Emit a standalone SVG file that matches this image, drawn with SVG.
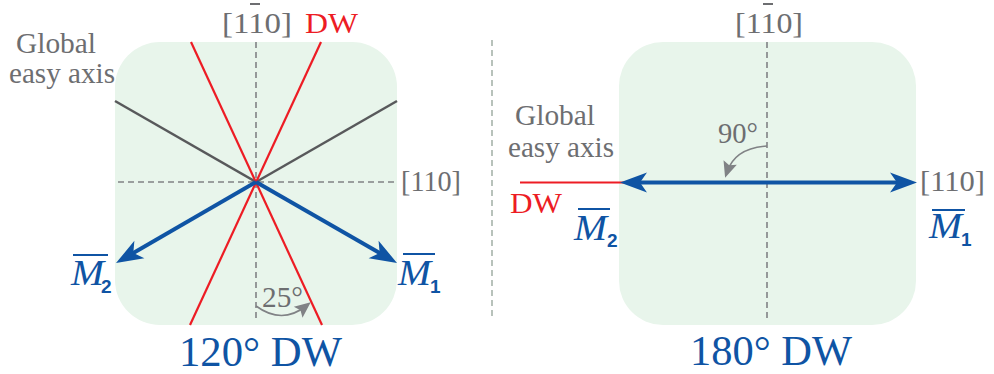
<svg xmlns="http://www.w3.org/2000/svg" width="994" height="374" viewBox="0 0 994 374">
<style>
.panel{fill:#e8f5eb}
.dash{stroke:#808285;stroke-width:1.6;stroke-dasharray:6 4;fill:none}
.red{stroke:#ed1c24;stroke-width:2.2;fill:none}
.axis{stroke:#58595b;stroke-width:2.5;fill:none}
.blue{stroke:#0f54a4;stroke-width:4;fill:none}
.arc{stroke:#808285;stroke-width:1.6;fill:none}
text{font-family:'Liberation Serif',Tinos,'Times New Roman',Times,'DejaVu Serif',serif}
.gt{fill:#6d6e71;font-size:29px}
.rt{fill:#ed1c24;font-size:30px}
.bt{fill:#0f54a4;font-size:42px}
.mt{font-style:italic;fill:#0f54a4;font-size:35px}
text.st{font-family:'Liberation Sans',Arial,sans-serif;font-weight:bold;fill:#0f54a4;font-size:19px}
.bar{stroke:#0f54a4;stroke-width:2}
.gbar{stroke:#6d6e71;stroke-width:2}
</style>
<defs>
<marker id="ab" markerUnits="userSpaceOnUse" markerWidth="40" markerHeight="30" viewBox="-30 -15 40 30" refX="-15" refY="0" orient="auto-start-reverse">
<path d="M0,0 L-27,-10 L-20,0 L-27,10 Z" fill="#0f54a4"/>
</marker>
<marker id="ag" markerUnits="userSpaceOnUse" markerWidth="30" markerHeight="24" viewBox="-20 -12 30 24" refX="-6" refY="0" orient="auto">
<path d="M0,0 L-16,-7 L-13,0 L-16,7 Z" fill="#808285"/>
</marker>
</defs>

<g id="left-panel">
<rect class="panel" x="115" y="42" width="282" height="283" rx="45" ry="45"/>
</g>
<g id="right-panel">
<rect class="panel" x="619" y="42" width="297" height="283" rx="44" ry="44"/>
</g>

<g id="connectors">
<line class="dash" x1="492" y1="40" x2="492" y2="320" style="stroke:#a7b3ab"/>
<line class="dash" x1="256" y1="42" x2="256" y2="322"/>
<line class="dash" x1="118" y1="182" x2="397" y2="182"/>
<line class="dash" x1="767" y1="42" x2="767" y2="322"/>
<line class="axis" x1="115" y1="101" x2="256" y2="182"/>
<line class="axis" x1="397" y1="101" x2="256" y2="182"/>
<line class="red" x1="191" y1="42" x2="322" y2="325"/>
<line class="red" x1="321" y1="42" x2="190" y2="325"/>
<line class="blue" x1="256" y1="182" x2="129" y2="255.5" marker-end="url(#ab)"/>
<line class="blue" x1="256" y1="182" x2="384" y2="255.5" marker-end="url(#ab)"/>
<path class="arc" d="M256,306 Q282,325 306,306" marker-end="url(#ag)"/>
<line class="red" x1="520" y1="182.5" x2="625" y2="182.5"/>
<line class="blue" x1="635" y1="182.5" x2="902" y2="182.5" marker-start="url(#ab)" marker-end="url(#ab)"/>
<path class="arc" d="M767,146 Q735,148 727,172" marker-end="url(#ag)"/>
</g>

<g id="labels-left">
<text class="gt" x="16" y="53" textLength="80" lengthAdjust="spacingAndGlyphs">Global</text>
<text class="gt" x="9" y="83" textLength="106" lengthAdjust="spacingAndGlyphs">easy axis</text>
<text class="gt" x="222" y="33" textLength="70" lengthAdjust="spacingAndGlyphs">[110]</text>
<line class="gbar" x1="250" y1="4" x2="260" y2="4"/>
<text class="rt" x="305" y="33" textLength="53" lengthAdjust="spacingAndGlyphs">DW</text>
<text class="gt" x="401" y="191" textLength="60" lengthAdjust="spacingAndGlyphs">[110]</text>
<text class="gt" x="262" y="307" textLength="41" lengthAdjust="spacingAndGlyphs">25°</text>
<text class="mt" x="71" y="285" textLength="33" lengthAdjust="spacingAndGlyphs">M</text>
<line class="bar" x1="73" y1="255" x2="108" y2="255"/>
<text class="st" x="101" y="293">2</text>
<text class="mt" x="398" y="285" textLength="33" lengthAdjust="spacingAndGlyphs">M</text>
<line class="bar" x1="403" y1="254" x2="435" y2="254"/>
<text class="st" x="430" y="293">1</text>
<text class="bt" x="179" y="366" textLength="163" lengthAdjust="spacingAndGlyphs">120° DW</text>
</g>

<g id="labels-right">
<text class="gt" x="735" y="33" textLength="68" lengthAdjust="spacingAndGlyphs">[110]</text>
<line class="gbar" x1="763" y1="4" x2="773" y2="4"/>
<text class="gt" x="515" y="125" textLength="80" lengthAdjust="spacingAndGlyphs">Global</text>
<text class="gt" x="508" y="157" textLength="106" lengthAdjust="spacingAndGlyphs">easy axis</text>
<text class="gt" x="718" y="143" textLength="40" lengthAdjust="spacingAndGlyphs">90°</text>
<text class="rt" x="510" y="213" textLength="52" lengthAdjust="spacingAndGlyphs">DW</text>
<text class="gt" x="920" y="191" textLength="65" lengthAdjust="spacingAndGlyphs">[110]</text>
<text class="mt" x="574" y="240" textLength="33" lengthAdjust="spacingAndGlyphs">M</text>
<line class="bar" x1="578" y1="209" x2="610" y2="209"/>
<text class="st" x="607" y="247">2</text>
<text class="mt" x="929" y="238" textLength="33" lengthAdjust="spacingAndGlyphs">M</text>
<line class="bar" x1="932" y1="210" x2="965" y2="210"/>
<text class="st" x="961" y="246">1</text>
<text class="bt" x="690" y="365" textLength="162" lengthAdjust="spacingAndGlyphs">180° DW</text>
</g>
</svg>
